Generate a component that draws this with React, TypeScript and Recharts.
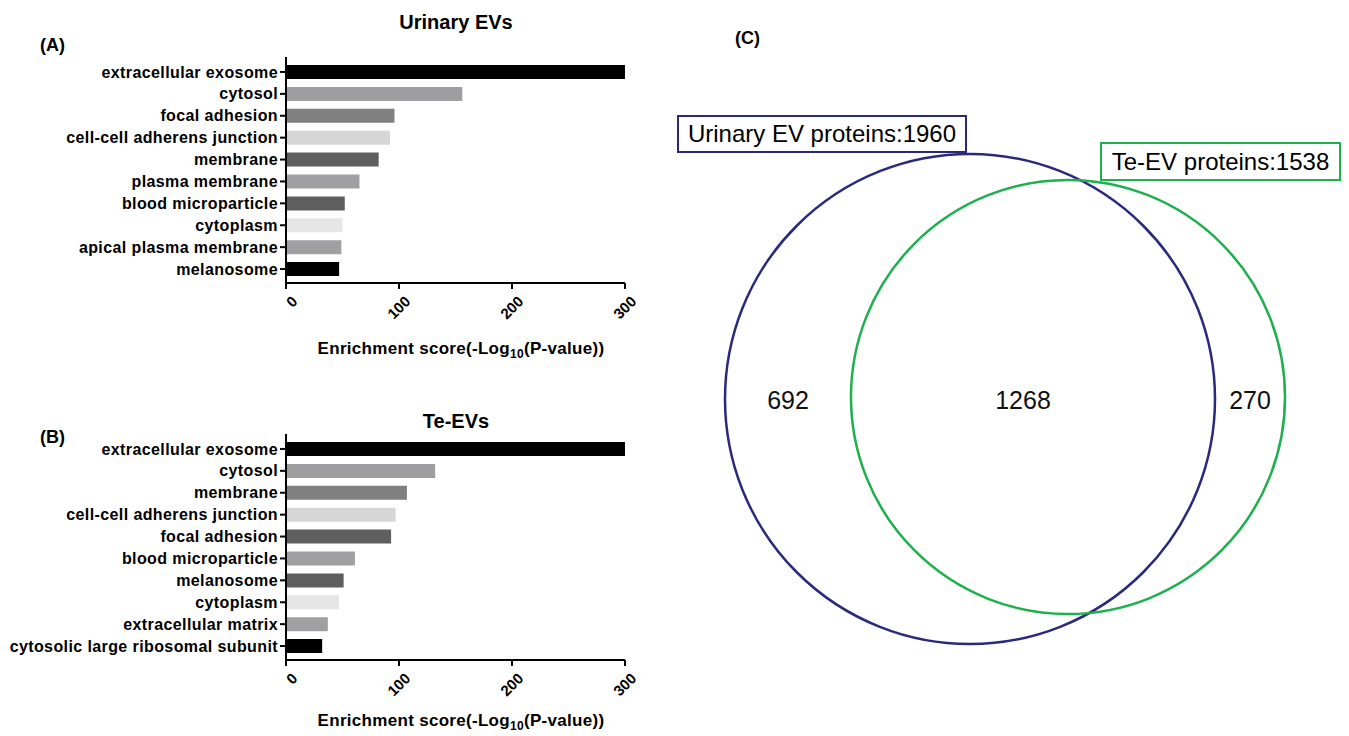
import { Bar, BarChart, Cell, Scatter, ScatterChart, XAxis, YAxis, ZAxis } from "recharts";

// GO cellular component enrichment, urinary EVs
const urinaryTerms = [
  "extracellular exosome",
  "cytosol",
  "focal adhesion",
  "cell-cell adherens junction",
  "membrane",
  "plasma membrane",
  "blood microparticle",
  "cytoplasm",
  "apical plasma membrane",
  "melanosome",
];
const urinaryScores = [300, 156, 96, 92, 82, 65, 52, 50, 49, 47];

// same for Te-EVs
const teTerms = [
  "extracellular exosome",
  "cytosol",
  "membrane",
  "cell-cell adherens junction",
  "focal adhesion",
  "blood microparticle",
  "melanosome",
  "cytoplasm",
  "extracellular matrix",
  "cytosolic large ribosomal subunit",
];
const teScores = [300, 132, 107, 97, 93, 61, 51, 47, 37, 32];

const barShades = ["#000000", "#9e9ea0", "#808080", "#d6d6d6", "#5f5f5f", "#a0a0a2", "#5e5e5e", "#e6e6e6", "#a0a0a2", "#000000"];
const scoreTicks = [0, 100, 200, 300];

// venn
const vennSets = ["Urinary EV proteins", "Te-EV proteins"];
const vennTotals = [1960, 1538];
const vennColors = ["#2a2a7c", "#1db04c"];
const vennCenterX = [310, 408];
const vennCenterY = [299, 297];
const regionCounts = [692, 1268, 270];
const regionX = [128, 363, 590];
const regionY = [300, 300, 300];

const FONT = "'Liberation Sans', Arial, Helvetica, sans-serif";

const TermTick = ({ x, y, payload }: any) => (
  <text x={x} y={y} dy="0.35em" textAnchor="end" fontSize={16} fontWeight="bold" fontFamily={FONT} letterSpacing={0.4} fill="#000">
    {payload.value}
  </text>
);

const ScoreTick = ({ x, y, payload }: any) => (
  <text
    transform={`translate(${x + 5},${y + 4}) rotate(-45)`}
    textAnchor="end"
    dy="0.7em"
    fontSize={15}
    fontWeight="bold"
    fontFamily={FONT}
    fill="#000"
  >
    {payload.value}
  </text>
);

function EnrichmentBars({ terms, scores }: { terms: string[]; scores: number[] }) {
  const data = terms.map((term, i) => ({ term, score: scores[i] }));
  return (
    <BarChart width={640} height={330} layout="vertical" data={data} margin={{ top: 57, right: 15, bottom: 7, left: 0 }}>
      <XAxis
        type="number"
        dataKey="score"
        domain={[0, 300]}
        ticks={scoreTicks}
        interval={0}
        allowDataOverflow
        height={40}
        tickSize={6}
        tick={<ScoreTick />}
        axisLine={{ stroke: "#000", strokeWidth: 2 }}
        tickLine={{ stroke: "#000", strokeWidth: 2 }}
      />
      <YAxis
        type="category"
        dataKey="term"
        width={286}
        interval={0}
        padding={{ top: 4, bottom: 3 }}
        tickSize={6}
        tickMargin={2}
        tick={<TermTick />}
        axisLine={{ stroke: "#000", strokeWidth: 2 }}
        tickLine={{ stroke: "#000", strokeWidth: 2 }}
      />
      <Bar dataKey="score" barSize={14} isAnimationActive={false}>
        {data.map((d, i) => (
          <Cell key={d.term} fill={barShades[i]} />
        ))}
      </Bar>
    </BarChart>
  );
}

const VennCircle = (props: any) => {
  const r = props.width ? props.width / 2 : Math.sqrt(props.size / Math.PI);
  return <circle cx={props.cx} cy={props.cy} r={r} fill="none" stroke={props.payload.color} strokeWidth={2.5} />;
};

const CountLabel = (props: any) => (
  <text x={props.cx} y={props.cy} dy="0.35em" textAnchor="middle" fontSize={25} fontFamily={FONT} fill="#111">
    {props.payload.count}
  </text>
);

function Venn() {
  const circles = vennSets.map((name, i) => ({ name, total: vennTotals[i], color: vennColors[i], x: vennCenterX[i], y: vennCenterY[i] }));
  const counts = regionCounts.map((count, i) => ({ count, x: regionX[i], y: regionY[i] }));
  return (
    <ScatterChart width={689} height={600} margin={{ top: 0, right: 0, bottom: 0, left: 0 }}>
      <XAxis type="number" dataKey="x" domain={[0, 689]} hide />
      <YAxis type="number" dataKey="y" domain={[0, 600]} reversed hide />
      <ZAxis type="number" dataKey="total" domain={[0, 1960]} range={[0, Math.PI * 245 * 245]} />
      <Scatter data={[circles[0]]} shape={<VennCircle />} isAnimationActive={false} />
      <Scatter data={[circles[1]]} shape={<VennCircle />} isAnimationActive={false} />
      <Scatter data={counts} shape={<CountLabel />} isAnimationActive={false} />
    </ScatterChart>
  );
}

const abs = (left: number, top: number, extra: any = {}) => ({ position: "absolute" as const, left, top, lineHeight: 1, whiteSpace: "nowrap" as const, ...extra });

export default function App() {
  return (
    <div style={{ position: "absolute", left: 0, top: 0, width: 1349, height: 736, background: "#fff", fontFamily: FONT, color: "#000", overflow: "hidden" }}>
      <div style={abs(0, 0)}>
        <EnrichmentBars terms={urinaryTerms} scores={urinaryScores} />
      </div>
      <div style={abs(0, 377)}>
        <EnrichmentBars terms={teTerms} scores={teScores} />
      </div>
      <div style={abs(660, 100)}>
        <Venn />
      </div>

      <div style={abs(40, 36, { fontSize: 18, fontWeight: "bold" })}>(A)</div>
      <div style={abs(356, 12, { width: 200, textAlign: "center", fontSize: 20, fontWeight: "bold" })}>Urinary EVs</div>
      <div style={abs(256, 340, { width: 410, textAlign: "center", fontSize: 17, fontWeight: "bold", letterSpacing: 0.3 })}>
        Enrichment score(-Log<sub style={{ fontSize: 12 }}>10</sub>(P-value))
      </div>

      <div style={abs(40, 428, { fontSize: 18, fontWeight: "bold" })}>(B)</div>
      <div style={abs(356, 411, { width: 200, textAlign: "center", fontSize: 20, fontWeight: "bold" })}>Te-EVs</div>
      <div style={abs(256, 712, { width: 410, textAlign: "center", fontSize: 17, fontWeight: "bold", letterSpacing: 0.3 })}>
        Enrichment score(-Log<sub style={{ fontSize: 12 }}>10</sub>(P-value))
      </div>

      <div style={abs(735, 29, { fontSize: 18, fontWeight: "bold" })}>(C)</div>
      <div style={abs(677, 115, { width: 290, height: 38, boxSizing: "border-box", border: "2px solid #2a2a7c", fontSize: 24, display: "flex", alignItems: "center", justifyContent: "center", background: "#fff" })}>
        {vennSets[0]}:{vennTotals[0]}
      </div>
      <div style={abs(1100, 142, { width: 241, height: 39, boxSizing: "border-box", border: "2px solid #1db04c", fontSize: 24, display: "flex", alignItems: "center", justifyContent: "center", background: "#fff" })}>
        {vennSets[1]}:{vennTotals[1]}
      </div>
    </div>
  );
}
